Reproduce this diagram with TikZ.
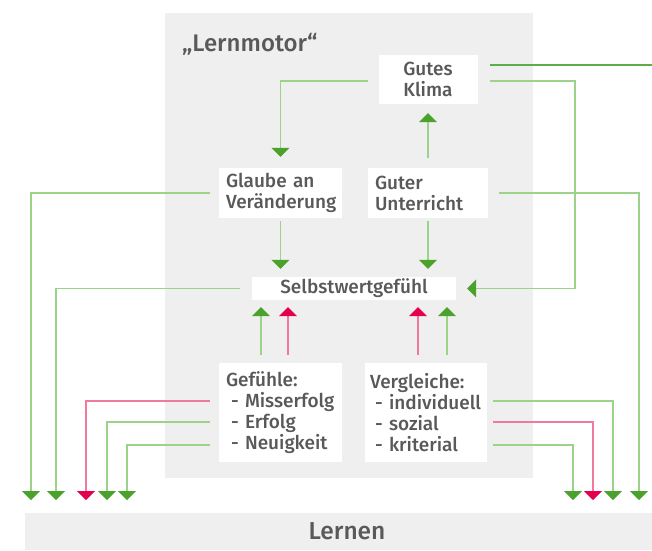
\documentclass[tikz,border=0pt]{standalone}
\usepackage{fontspec}
\setmainfont{Fira Sans}[BoldFont={Fira Sans Medium}]
\usetikzlibrary{arrows.meta, positioning}
\definecolor{bggray}{HTML}{EFEFEF}
\definecolor{txtgray}{HTML}{595959}
\definecolor{lgreen}{HTML}{9CD38A}
\definecolor{dgreen}{HTML}{4AA12C}
\definecolor{mgreen}{HTML}{5DAE49}
\definecolor{lred}{HTML}{F07A9B}
\definecolor{dred}{HTML}{E2004F}
\tikzset{
x=1pt, y=-1pt, % one unit is one pixel of the sketch, y runs downwards
box/.style={fill=white, text=txtgray, font=\bfseries\fontsize{19}{21}\selectfont, inner xsep=7pt, inner ysep=0pt, align=left}, % white text boxes
gain/.style={draw=lgreen, line width=1.5pt, -{Triangle[width=18pt, length=9pt, color=dgreen]}}, % positive influence
loss/.style={draw=lred, line width=1.5pt, -{Triangle[width=18pt, length=9pt, color=dred]}}, % negative influence
}

\begin{document}
\begin{tikzpicture}
        \useasboundingbox (0,0) rectangle (652,550);

        % Lernmotor
        \fill[bggray] (165,13) rectangle (533,478);
        \node[anchor=base west, inner sep=0pt, text=txtgray, font=\bfseries\fontsize{24}{28}\selectfont] (title) at (182,51) {„Lernmotor“};

        \node[box, align=center, minimum width=99pt, minimum height=49pt] (klima) at (428,79.5) {Gutes\\Klima};
        \node[box, text width=109pt, minimum height=50pt] (glaube) at (280.5,193) {Glaube an\\Veränderung};
        \node[box, text width=106pt, minimum height=50pt] (guter) at (428,193) {Guter\\Unterricht};
        \node[box, align=center, minimum width=204pt, minimum height=23pt] (selbst) at (354,288.5) {Selbstwertgefühl};
        \node[box, text width=109pt, minimum height=99pt] (gefuehle) at (280.5,412.5) {Gefühle:\\\hspace*{5pt}- Misserfolg\\\hspace*{5pt}- Erfolg\\\hspace*{5pt}- Neuigkeit};
        \node[box, inner xsep=5pt, text width=112pt, minimum height=99pt] (vergleiche) at (426,412.5) {Vergleiche:\\\hspace*{5pt}- individuell\\\hspace*{5pt}- sozial\\\hspace*{5pt}- kriterial};

        % Lernen
        \node[fill=bggray, text=txtgray, font=\bfseries\fontsize{24.5}{28}\selectfont, minimum width=644pt, minimum height=37pt] (lernen) at (347,531.5) {Lernen};

        % free ends
        \coordinate (kturn) at (575,200);
        \coordinate (kout) at (652,65);
        \coordinate (g1) at ([xshift=-19.5pt]gefuehle.north);
        \coordinate (g2) at ([xshift=7.5pt]gefuehle.north);
        \coordinate (v1) at ([xshift=-8pt]vergleiche.north);
        \coordinate (v2) at ([xshift=21pt]vergleiche.north);
        \coordinate (a1) at (31,500);
        \coordinate (a2) at (56,500);
        \coordinate (a3) at (86,500);
        \coordinate (a4) at (107,500);
        \coordinate (a5) at (127,500);
        \coordinate (b1) at (573,500);
        \coordinate (b2) at (593,500);
        \coordinate (b3) at (613,500);
        \coordinate (b4) at (639,500);

        % inside the motor
        \draw[gain] ([xshift=-10pt,yshift=-1.5pt]klima.west) -| ([yshift=11pt]glaube.north);
        \draw[gain, shorten <=10pt, shorten >=9pt] (guter.north) -- (klima.south);
        \draw[gain] ([xshift=12pt,yshift=-1.5pt]klima.east) -| (kturn) |- ([xshift=11pt]selbst.east);
        \draw[mgreen, line width=1.5pt] ([xshift=12pt,yshift=14.5pt]klima.east) -- (kout);
        \draw[gain, shorten <=3pt, shorten >=8pt] (glaube.south) -- (glaube.south |- selbst.north);
        \draw[gain, shorten <=3pt, shorten >=8pt] (guter.south) -- (guter.south |- selbst.north);
        \draw[gain, shorten <=8pt, shorten >=7pt] (g1) -- (g1 |- selbst.south);
        \draw[loss, shorten <=8pt, shorten >=7pt] (g2) -- (g2 |- selbst.south);
        \draw[loss, shorten <=8pt, shorten >=7pt] (v1) -- (v1 |- selbst.south);
        \draw[gain, shorten <=8pt, shorten >=7pt] (v2) -- (v2 |- selbst.south);

        % down to Lernen, left side
        \draw[gain] ([xshift=-9pt]glaube.west) -| (a1);
        \draw[gain] ([xshift=-12pt]selbst.west) -| (a2);
        \draw[loss] ([xshift=-9pt,yshift=11.5pt]gefuehle.west) -| (a3);
        \draw[gain] ([xshift=-9pt,yshift=-9.5pt]gefuehle.west) -| (a4);
        \draw[gain] ([xshift=-9pt,yshift=-32.5pt]gefuehle.west) -| (a5);

        % down to Lernen, right side
        \draw[gain] ([xshift=11pt]guter.east) -| (b4);
        \draw[gain] ([xshift=6pt,yshift=11.5pt]vergleiche.east) -| (b3);
        \draw[loss] ([xshift=6pt,yshift=-9.5pt]vergleiche.east) -| (b2);
        \draw[gain] ([xshift=6pt,yshift=-32.5pt]vergleiche.east) -| (b1);
    \end{tikzpicture}
\end{document}
